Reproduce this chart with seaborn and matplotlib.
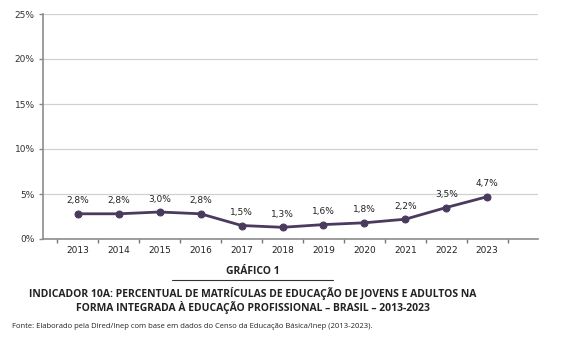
import numpy as np
import pandas as pd
import seaborn as sns
import matplotlib.pyplot as plt

years = ["2013", "2014", "2015", "2016", "2017", "2018", "2019", "2020", "2021", "2022", "2023"]
values = [2.8, 2.8, 3.0, 2.8, 1.5, 1.3, 1.6, 1.8, 2.2, 3.5, 4.7]
labels = ["2,8%", "2,8%", "3,0%", "2,8%", "1,5%", "1,3%", "1,6%", "1,8%", "2,2%", "3,5%", "4,7%"]
yticks = [0, 5, 10, 15, 20, 25]

df = pd.DataFrame({"ano": years, "pct": values})

sns.set_style("white")
plt.rcParams['font.family'] = ['DejaVu Sans']

fig = plt.figure(figsize=(5.68, 3.46), dpi=100)
ax = fig.add_axes([43 / 568, 1 - 239 / 346, 495 / 568, 225 / 346])

color = "#4a3a5e"
sns.lineplot(data=df, x="ano", y="pct", ax=ax, color=color, linewidth=2.0,
             marker="o", markersize=5, markeredgecolor=color)

for i, (v, lab) in enumerate(zip(values, labels)):
    ax.annotate(lab, (i, v), xytext=(0, 6), textcoords="offset points",
                ha="center", va="bottom", fontsize=6.5, color="#222222")

ax.set_ylim(0, 25)
ax.set_yticks(yticks)
ax.set_yticklabels([f"{t}%" for t in yticks], fontsize=6.5, color="#333333")
ax.set_xlim(-0.85, 11.24)
ax.set_xticks(range(len(years)))
ax.set_xticklabels(years, fontsize=6.5, color="#222222")
ax.set_xticks(np.arange(-0.5, len(years)), minor=True)
ax.tick_params(axis="x", which="major", length=0, pad=5)
ax.tick_params(axis="x", which="minor", bottom=True, length=3, width=1,
               color="#777777", direction="out")
ax.tick_params(axis="y", left=True, length=3, width=1, color="#888888", pad=3)
ax.set_xlabel("")
ax.set_ylabel("")
ax.grid(axis="y", color="#d0d0d0", linewidth=0.9)
ax.set_axisbelow(True)
for s in ["top", "right"]:
    ax.spines[s].set_visible(False)
for s in ["left", "bottom"]:
    ax.spines[s].set_color("#8c8c8c")
    ax.spines[s].set_linewidth(1.2)

fig.text(253 / 568, 1 - 271 / 346, "GRÁFICO 1", ha="center", va="center",
         fontsize=7.5, fontweight="bold", family="Open Sans", color="#222222")
fig.add_artist(plt.Line2D([172 / 568, 333 / 568], [1 - 280 / 346, 1 - 280 / 346],
                          color="#333333", linewidth=0.8))
fig.text(253 / 568, 1 - 300 / 346,
         "INDICADOR 10A: PERCENTUAL DE MATRÍCULAS DE EDUCAÇÃO DE JOVENS E ADULTOS NA\n"
         "FORMA INTEGRADA À EDUCAÇÃO PROFISSIONAL – BRASIL – 2013-2023",
         ha="center", va="center", fontsize=7.5, fontweight="bold",
         family="Open Sans", color="#222222", linespacing=1.1)
fig.text(12 / 568, 1 - 327 / 346,
         "Fonte: Elaborado pela Dired/Inep com base em dados do Censo da Educação Básica/Inep (2013-2023).",
         ha="left", va="center", fontsize=5.5, family="Open Sans", color="#222222")

fig.savefig("out.png", dpi=100)
